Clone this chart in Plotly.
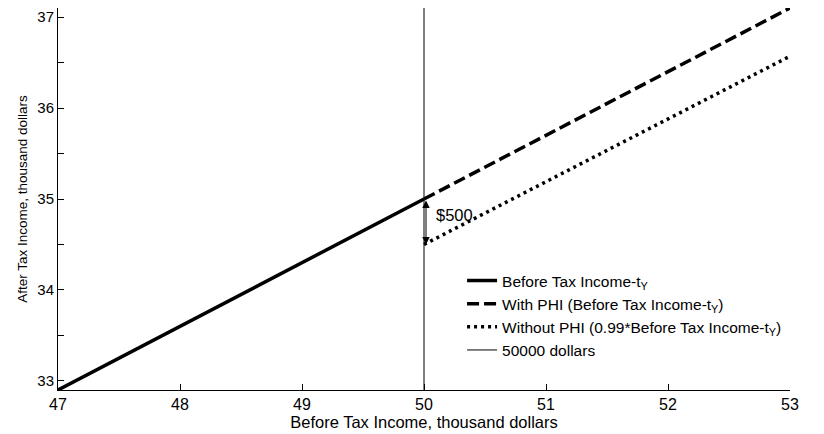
import plotly.graph_objects as go

# ---- data (thousand dollars) ----
income_left = [47, 48, 49, 50]
before_tax_line = [32.9, 33.6, 34.3, 35.0]
income_right = [50, 51, 52, 53]
with_phi = [35.0, 35.7, 36.4, 37.1]
without_phi = [34.5, 35.19, 35.88, 36.57]
threshold_x = [50, 50]
threshold_y = [32.9, 37.1]
x_ticks = [47, 48, 49, 50, 51, 52, 53]
y_ticks = [33, 34, 35, 36, 37]
gap_label = "$500"

FONT = "Liberation Sans, Arial, Helvetica, sans-serif"

fig = go.Figure()
fig.add_trace(go.Scatter(x=income_left, y=before_tax_line, mode="lines",
                         name="Before Tax Income-t<sub>Y</sub>",
                         line=dict(color="black", width=3.5)))
fig.add_trace(go.Scatter(x=income_right, y=with_phi, mode="lines",
                         name="With PHI (Before Tax Income-t<sub>Y</sub>)",
                         line=dict(color="black", width=3.5, dash="12px,5px")))
fig.add_trace(go.Scatter(x=income_right, y=without_phi, mode="lines",
                         name="Without PHI (0.99*Before Tax Income-t<sub>Y</sub>)",
                         line=dict(color="black", width=3.5, dash="3px,4px")))
fig.add_trace(go.Scatter(x=threshold_x, y=threshold_y, mode="lines",
                         name="50000 dollars",
                         line=dict(color="black", width=1)))

fig.add_annotation(x=income_right[0], y=without_phi[0], ax=income_right[0], ay=with_phi[0],
                   xref="x", yref="y", axref="x", ayref="y", text="",
                   showarrow=True, arrowhead=2, arrowside="end+start",
                   arrowsize=1.5, arrowwidth=1, arrowcolor="black",
                   standoff=0, startstandoff=0, xshift=2)
fig.add_annotation(x=income_right[0], y=(with_phi[0] + without_phi[0]) / 2 + 0.07,
                   xref="x", yref="y", text=gap_label, showarrow=False,
                   xanchor="left", yanchor="middle", xshift=10,
                   font=dict(family=FONT, size=16.5, color="black"))

fig.update_layout(
    width=824, height=434,
    margin=dict(l=58, r=34, t=8, b=41),
    paper_bgcolor="white", plot_bgcolor="white",
    font=dict(family=FONT, size=14, color="black"),
    showlegend=True,
    legend=dict(x=0.552, y=0.33, xanchor="left", yanchor="top",
                bgcolor="rgba(0,0,0,0)", borderwidth=0,
                font=dict(family=FONT, size=15.5, color="black"),
                tracegroupgap=0),
)
fig.update_xaxes(range=[47, 53], tickvals=x_ticks, ticks="inside", ticklen=6,
                 tickcolor="black", showline=True, linecolor="black", linewidth=1,
                 showgrid=False, zeroline=False, mirror=False,
                 tickfont=dict(family=FONT, size=16),
                 title=dict(text="Before Tax Income, thousand dollars",
                            font=dict(family=FONT, size=16.5), standoff=1))
fig.update_yaxes(range=[32.9, 37.1], tickvals=y_ticks, ticks="inside", ticklen=6,
                 tickcolor="black", showline=True, linecolor="black", linewidth=1,
                 showgrid=False, zeroline=False, mirror=False,
                 minor=dict(dtick=0.5, tick0=33, ticks="inside", ticklen=6, tickcolor="black", showgrid=False),
                 tickfont=dict(family=FONT, size=15),
                 title=dict(text="After Tax Income, thousand dollars",
                            font=dict(family=FONT, size=13.5), standoff=6))

fig.write_html("out.html")
